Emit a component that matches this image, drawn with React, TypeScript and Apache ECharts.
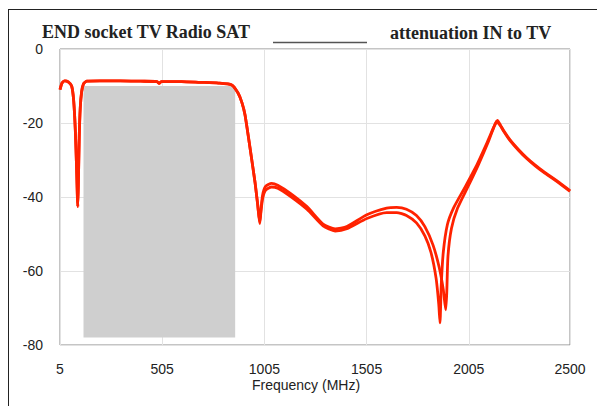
import React, { useEffect, useRef } from "react";
import * as echarts from "echarts";

// Frequency axis labels start at 5 MHz, step 500, end at 2500
const X_MIN = 5;
const X_MAX = 2500;
const X_STEP = 500;
const Y_TICKS = [0, -20, -40, -60, -80];

// TV pass band (grey block)
const bandFreq = [120, 862];
const bandLevel = [-10, -78];

// Curve A (notch at ~1892 MHz)
const freqA = [5, 15, 29, 45, 62, 72, 80, 86, 90, 92, 95, 99, 104, 111, 120, 136, 200, 300, 400, 480, 490, 500, 600, 690, 780, 845, 876, 895, 910, 934, 959, 972, 982, 988, 996, 1010, 1040, 1070, 1132, 1213, 1292, 1351, 1408, 1506, 1603, 1652, 1700, 1749, 1790, 1830, 1860, 1880, 1892, 1897, 1903, 1920, 1950, 2001, 2050, 2101, 2130, 2145, 2160, 2173, 2206, 2250, 2288, 2330, 2370, 2440, 2500];
const attA = [-11, -9.2, -8.6, -8.9, -10, -14, -22, -32, -40, -42.6, -36, -24, -16, -11.5, -9.4, -8.7, -8.6, -8.6, -8.7, -8.8, -9.3, -8.8, -8.8, -9.0, -9.2, -9.7, -11.9, -14.5, -17.8, -26.5, -36, -42, -46.8, -43.5, -39.5, -37.2, -36.3, -36.8, -39, -42.6, -47.3, -48.6, -48, -44.8, -43, -42.8, -43.3, -45, -48, -53, -59, -65, -70.5, -66, -56, -48.5, -43, -37.2, -31.5, -25, -20.8, -19.3, -20.6, -21.8, -24.5, -27.3, -29.4, -31.4, -33.1, -35.8, -38.3];

// Curve B (notch at ~1864 MHz)
const freqB = [5, 15, 29, 45, 62, 72, 80, 86, 90, 92, 95, 99, 104, 111, 120, 136, 200, 300, 400, 480, 490, 500, 600, 690, 780, 845, 876, 895, 910, 934, 959, 972, 982, 988, 996, 1010, 1040, 1070, 1132, 1213, 1292, 1351, 1408, 1506, 1603, 1652, 1700, 1749, 1790, 1820, 1845, 1858, 1864, 1870, 1880, 1900, 1930, 1985, 2040, 2095, 2128, 2142, 2160, 2173, 2206, 2250, 2288, 2330, 2370, 2440, 2500];
const attB = [-11, -9.2, -8.6, -8.9, -10, -14, -22, -32, -40, -42.6, -36, -24, -16, -11.5, -9.4, -8.7, -8.6, -8.6, -8.7, -8.8, -9.3, -8.8, -8.8, -9.0, -9.2, -9.7, -11.9, -14.5, -17.8, -26.5, -36, -42, -47.2, -44, -40.5, -38.2, -37.3, -37.6, -39.8, -43.3, -47.8, -49.2, -48.6, -45.8, -44.2, -44.2, -45, -47, -50.5, -55, -62, -69, -74, -64, -55, -47.5, -43, -37.5, -31.8, -25.2, -21, -19.6, -20.8, -22, -24.7, -27.5, -29.6, -31.6, -33.3, -36, -38.5];

const TITLE_LEFT = "END socket TV Radio SAT";
const TITLE_RIGHT = "attenuation IN to TV";
const X_NAME = "Frequency (MHz)";

const RED = "#ff2200";

export default function App() {
  const ref = useRef<HTMLDivElement>(null);
  useEffect(() => {
    if (!ref.current) return;
    const chart = echarts.init(ref.current, undefined, { renderer: "svg" });
    const shift = (f: number) => f - X_MIN;
    const option: any = {
      animation: false,
      backgroundColor: "#ffffff",
      grid: {
        left: 60,
        right: 27,
        top: 49,
        bottom: 61,
        show: true,
        borderColor: "#8a8a8a",
        borderWidth: 1,
        backgroundColor: "transparent",
      },
      xAxis: {
        type: "value",
        min: 0,
        max: X_MAX - X_MIN,
        interval: X_STEP,
        axisLine: { show: false },
        axisTick: { show: false },
        axisLabel: {
          margin: 17,
          fontFamily: "Liberation Sans, Arial",
          fontSize: 14,
          color: "#222",
          formatter: (v: number) => String(v + X_MIN),
          showMaxLabel: true,
        },
        splitLine: { show: true, lineStyle: { color: "#e2e2e2", width: 1 } },
      },
      yAxis: {
        type: "value",
        min: Y_TICKS[Y_TICKS.length - 1],
        max: Y_TICKS[0],
        interval: 20,
        axisLine: { show: false },
        axisTick: { show: false },
        axisLabel: {
          margin: 17,
          fontFamily: "Liberation Sans, Arial",
          fontSize: 14,
          color: "#222",
        },
        splitLine: { show: true, lineStyle: { color: "#e2e2e2", width: 1 } },
      },
      series: [
        {
          type: "line",
          data: [],
          z: 1,
          silent: true,
          markArea: {
            silent: true,
            itemStyle: { color: "#cfcfcf", opacity: 1 },
            data: [
              [
                { coord: [shift(bandFreq[0]), bandLevel[0]] },
                { coord: [shift(bandFreq[1]), bandLevel[1]] },
              ],
            ],
          },
        },
        {
          type: "line",
          z: 3,
          showSymbol: false,
          smooth: 0.2,
          lineStyle: { color: RED, width: 2.8 },
          data: freqA.map((f, i) => [shift(f), attA[i]]),
        },
        {
          type: "line",
          z: 3,
          showSymbol: false,
          smooth: 0.2,
          lineStyle: { color: RED, width: 2.8 },
          data: freqB.map((f, i) => [shift(f), attB[i]]),
        },
      ],
      graphic: [
        { type: "line", shape: { x1: 8, y1: 9.5, x2: 597, y2: 9.5 }, style: { stroke: "#222", lineWidth: 1 } },
        { type: "line", shape: { x1: 8.5, y1: 9, x2: 8.5, y2: 406 }, style: { stroke: "#222", lineWidth: 1 } },
        { type: "line", shape: { x1: 273, y1: 42.5, x2: 367, y2: 42.5 }, style: { stroke: "#555", lineWidth: 1.5 } },
        {
          type: "text",
          x: 42,
          y: 32,
          style: {
            text: TITLE_LEFT,
            font: "bold 18px 'Liberation Serif', 'Times New Roman', serif",
            fill: "#222",
            verticalAlign: "middle",
          },
        },
        {
          type: "text",
          x: 390,
          y: 33,
          style: {
            text: TITLE_RIGHT,
            font: "bold 18px 'Liberation Serif', 'Times New Roman', serif",
            fill: "#222",
            verticalAlign: "middle",
          },
        },
        {
          type: "text",
          x: 306,
          y: 385,
          style: {
            text: X_NAME,
            font: "14px 'Liberation Sans', Arial, sans-serif",
            fill: "#222",
            align: "center",
            verticalAlign: "middle",
          },
        },
      ],
    };
    chart.setOption(option);
    return () => chart.dispose();
  }, []);
  return (
    <div
      ref={ref}
      style={{ position: "fixed", left: 0, top: 0, width: 597, height: 406, background: "#fff" }}
    />
  );
}
